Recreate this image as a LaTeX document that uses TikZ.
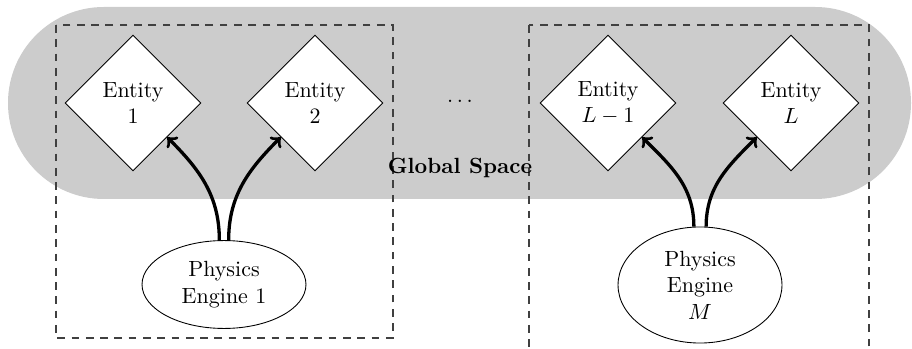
\documentclass[tikz,border=0pt]{standalone}
\usetikzlibrary{shapes.geometric}
\begin{document}
\begin{tikzpicture}[x=0.455pt,y=-0.455pt,
  ent/.style={draw, fill=white, diamond, aspect=1, minimum size=61.9pt, inner sep=0pt, align=center},
  eng/.style={draw, fill=white, ellipse, minimum width=74.6pt, inner sep=0pt, align=center},
  arr/.style={->, line width=1.5pt},
  group/.style={draw=black!75, line width=0.5pt, dash pattern=on 3.5pt off 3pt}]
  \path[clip] (0,0) rectangle (912,349);
  % shared space
  \fill[gray!40, rounded corners=43.6pt] (8,7) rectangle (911,199);
  % engine groups
  \draw[group] (56,25) rectangle (393,338);
  \draw[group] (529,25) rectangle (869,380);
  % entities
  \node[ent] (e1) at (133,103) {Entity\\1};
  \node[ent] (e2) at (315,103) {Entity\\2};
  \node[ent] (e3) at (608,103) {Entity\\$L-1$};
  \node[ent] (e4) at (791,103) {Entity\\$L$};
  \node (dots) at (460,101) {$\dots$};
  \node[font=\bfseries] (gs) at (460,168) {Global Space};
  % engines
  \node[eng, minimum height=40pt] (p1) at (224,284.5) {Physics\\Engine 1};
  \node[eng, minimum height=52.8pt] (pm) at (700,285) {Physics\\Engine\\$M$};
  % updates
  \draw[arr] (p1.96) to[out=90,in=-45] (e1.south east);
  \draw[arr] (p1.84) to[out=90,in=-135] (e2.south west);
  \draw[arr] (pm.96) to[out=90,in=-45] (e3.south east);
  \draw[arr] (pm.84) to[out=90,in=-135] (e4.south west);
\end{tikzpicture}
\end{document}
